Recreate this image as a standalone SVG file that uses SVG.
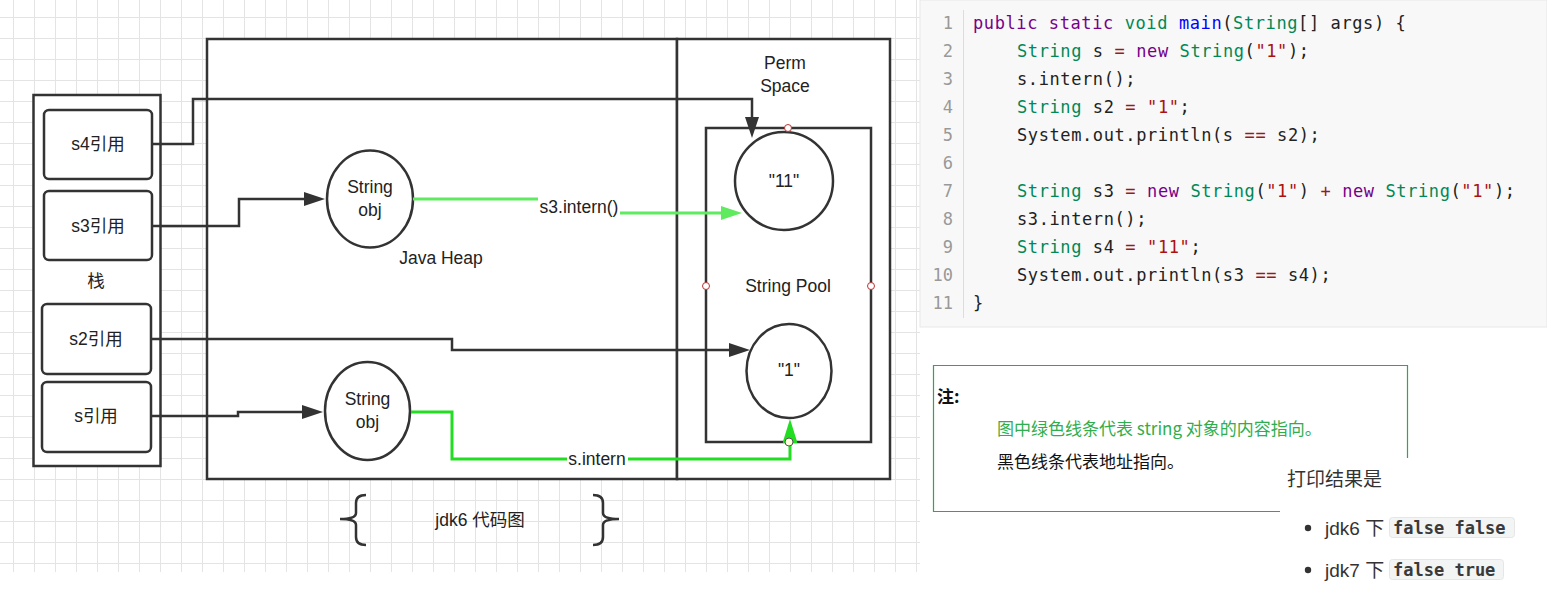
<svg xmlns="http://www.w3.org/2000/svg" width="1547" height="611" viewBox="0 0 1547 611">
  <defs>
    <pattern id="grid" x="13" y="17" width="21" height="21" patternUnits="userSpaceOnUse">
      <path d="M0 0.5 H21 M0.5 0 V21" fill="none" stroke="#e4e4e4" stroke-width="1"/>
    </pattern>
    <marker id="arrBlack" markerUnits="userSpaceOnUse" markerWidth="22" markerHeight="16" refX="0" refY="7" orient="auto">
      <path d="M0,0 L21,7 L0,14 z" fill="#333"/>
    </marker>
    <marker id="arrGreenL" markerUnits="userSpaceOnUse" markerWidth="22" markerHeight="16" refX="0" refY="7" orient="auto">
      <path d="M0,0 L21,7 L0,14 z" fill="#5fea5f"/>
    </marker>
    <marker id="arrGreen" markerUnits="userSpaceOnUse" markerWidth="25" markerHeight="16" refX="0" refY="7.5" orient="auto">
      <path d="M0,0 L24,7.5 L0,15 z" fill="#22dd22"/>
    </marker>
    <style>
      .box { fill: #fff; stroke: #333; stroke-width: 2.5; }
      .frame { fill: none; stroke: #333; stroke-width: 2.5; }
      .lbl { font-family: "Liberation Sans", "Noto Sans CJK SC", sans-serif; font-size: 17.5px; fill: #222; text-anchor: middle; dominant-baseline: central; }
      .conn { fill: none; stroke: #333; stroke-width: 2.5; }
      .gconn { fill: none; stroke-width: 3; }
      .pt { fill: #fff; stroke: #b33; stroke-width: 1; }
      .code { font-family: "DejaVu Sans Mono", "Liberation Mono", monospace; font-size: 17px; letter-spacing: 0.6px; fill: #222; white-space: pre; }
      .ln { font-family: "DejaVu Sans Mono", "Liberation Mono", monospace; font-size: 17px; fill: #999; text-anchor: end; }
      .kw { fill: #770088; }
      .ty { fill: #008855; }
      .df { fill: #0000ff; }
      .st { fill: #aa1111; }
      .op { fill: #981a1a; }
      .note { font-family: "Noto Sans CJK SC", "Liberation Sans", sans-serif; font-size: 17px; }
      .body { font-family: "Liberation Sans", "Noto Sans CJK SC", sans-serif; font-size: 19px; fill: #333; }
      .mono { font-family: "DejaVu Sans Mono", "Liberation Mono", monospace; font-size: 17px; fill: #3a3a3a; font-weight: bold; }
      .codebg { fill: #f3f4f4; stroke: #e6e6e6; stroke-width: 1; }
    </style>
  </defs>

  <rect x="0" y="0" width="1547" height="611" fill="#fff"/>
  <rect x="0" y="0" width="920" height="572" fill="url(#grid)"/>

  <!-- Containers -->
  <g id="stack">
    <rect class="box" x="33.5" y="95" width="127" height="371"/>
    <text class="lbl" x="96" y="281">栈</text>
  </g>
  <g id="java-heap">
    <rect class="box" x="207" y="39" width="470" height="440"/>
    <text class="lbl" x="441" y="258">Java Heap</text>
  </g>
  <g id="perm-space">
    <rect class="box" x="677" y="39" width="213" height="440"/>
    <text class="lbl" x="785" y="63">Perm</text>
    <text class="lbl" x="785" y="86">Space</text>
  </g>
  <g id="string-pool">
    <rect class="box" x="706" y="128" width="165" height="314"/>
    <text class="lbl" x="788" y="286">String Pool</text>
  </g>

  <!-- Stack refs -->
  <g id="s4-ref">
    <rect class="box" x="44" y="110" width="108" height="69" rx="5"/>
    <text class="lbl" x="98" y="144">s4引用</text>
  </g>
  <g id="s3-ref">
    <rect class="box" x="44" y="191" width="108" height="69" rx="5"/>
    <text class="lbl" x="98" y="226">s3引用</text>
  </g>
  <g id="s2-ref">
    <rect class="box" x="42" y="304" width="109" height="70" rx="5"/>
    <text class="lbl" x="96" y="339">s2引用</text>
  </g>
  <g id="s-ref">
    <rect class="box" x="42" y="382" width="109" height="70" rx="5"/>
    <text class="lbl" x="96" y="416">s引用</text>
  </g>

  <!-- Heap objects -->
  <g id="obj-s3">
    <ellipse class="box" cx="370" cy="199" rx="43" ry="48.5"/>
    <text class="lbl" x="370" y="187">String</text>
    <text class="lbl" x="370" y="210">obj</text>
  </g>
  <g id="obj-s">
    <ellipse class="box" cx="367.5" cy="411" rx="42.5" ry="49"/>
    <text class="lbl" x="367.5" y="399">String</text>
    <text class="lbl" x="367.5" y="422">obj</text>
  </g>

  <!-- Pool entries -->
  <g id="pool-11">
    <circle class="box" cx="784" cy="181" r="49"/>
    <text class="lbl" x="784" y="181">"11"</text>
  </g>
  <g id="pool-1">
    <ellipse class="box" cx="789" cy="371" rx="42.5" ry="47"/>
    <text class="lbl" x="789" y="370">"1"</text>
  </g>

  <!-- Connectors -->
  <g id="connectors">
    <path class="conn" d="M152,144 H193 V99 H752 V117" marker-end="url(#arrBlack)"/>
    <path class="conn" d="M152,226 H239 V199 H304" marker-end="url(#arrBlack)"/>
    <path class="conn" d="M152,339 H452 V350 H729" marker-end="url(#arrBlack)"/>
    <path class="conn" d="M152,416 H238 V412 H302" marker-end="url(#arrBlack)"/>
    <path class="gconn" stroke="#5fea5f" d="M413,199 H579 V213 H721" marker-end="url(#arrGreenL)"/>
    <rect x="538" y="197" width="82" height="19" fill="#fff"/>
    <text class="lbl" x="579" y="207">s3.intern()</text>
    <path class="gconn" stroke="#22dd22" d="M411,412 H452 V459 H790 V443" marker-end="url(#arrGreen)"/>
    <rect x="567" y="450" width="61" height="18" fill="#fff"/>
    <text class="lbl" x="597" y="459">s.intern</text>
  </g>

  <!-- connection points -->
  <g id="points">
    <circle class="pt" cx="788" cy="128" r="3.5"/>
    <circle class="pt" cx="706" cy="286" r="3.5"/>
    <circle class="pt" cx="871" cy="286" r="3.5"/>
    <circle cx="789" cy="442" r="4" fill="#ffffdd" stroke="#555" stroke-width="1"/>
  </g>

  <!-- Caption -->
  <g id="caption">
    <path class="frame" d="M366,495 Q356,495 356,503 V513 Q356,519 340,519 Q356,519 356,525 V537 Q356,545 366,545"/>
    <path class="frame" d="M593,495 Q603,495 603,503 V513 Q603,519 619,519 Q603,519 603,525 V537 Q603,545 593,545"/>
    <text class="lbl" x="480" y="520">jdk6 代码图</text>
  </g>

  <!-- Code -->
  <g id="code">
    <rect x="920" y="0" width="627" height="327" fill="#f8f8f8" stroke="#e8e8e8" stroke-width="1"/>
    <line x1="963.5" y1="10" x2="963.5" y2="318" stroke="#ddd" stroke-width="1"/>
    <text class="ln" x="953" y="29">1</text>
    <text class="ln" x="953" y="57">2</text>
    <text class="ln" x="953" y="85">3</text>
    <text class="ln" x="953" y="113">4</text>
    <text class="ln" x="953" y="141">5</text>
    <text class="ln" x="953" y="169">6</text>
    <text class="ln" x="953" y="197">7</text>
    <text class="ln" x="953" y="225">8</text>
    <text class="ln" x="953" y="253">9</text>
    <text class="ln" x="953" y="281">10</text>
    <text class="ln" x="953" y="309">11</text>
    <text class="code" x="973" y="29"><tspan class="kw">public static</tspan> <tspan class="ty">void</tspan> <tspan class="df">main</tspan>(<tspan class="ty">String</tspan>[] args) {</text>
    <text class="code" x="1017" y="57"><tspan class="ty">String</tspan> s <tspan class="op">=</tspan> <tspan class="kw">new</tspan> <tspan class="ty">String</tspan>(<tspan class="st">"1"</tspan>);</text>
    <text class="code" x="1017" y="85">s.intern();</text>
    <text class="code" x="1017" y="113"><tspan class="ty">String</tspan> s2 <tspan class="op">=</tspan> <tspan class="st">"1"</tspan>;</text>
    <text class="code" x="1017" y="141">System.out.println(s <tspan class="op">==</tspan> s2);</text>
    <text class="code" x="1017" y="197"><tspan class="ty">String</tspan> s3 <tspan class="op">=</tspan> <tspan class="kw">new</tspan> <tspan class="ty">String</tspan>(<tspan class="st">"1"</tspan>) <tspan class="op">+</tspan> <tspan class="kw">new</tspan> <tspan class="ty">String</tspan>(<tspan class="st">"1"</tspan>);</text>
    <text class="code" x="1017" y="225">s3.intern();</text>
    <text class="code" x="1017" y="253"><tspan class="ty">String</tspan> s4 <tspan class="op">=</tspan> <tspan class="st">"11"</tspan>;</text>
    <text class="code" x="1017" y="281">System.out.println(s3 <tspan class="op">==</tspan> s4);</text>
    <text class="code" x="973" y="309">}</text>
  </g>

  <!-- Note -->
  <g id="note">
    <path d="M1280,511.5 H933.5 V365.5 H1407.5 V458" fill="none" stroke="#2fa650" stroke-width="1.2"/>
    <text class="note" x="937" y="403" font-weight="bold" fill="#111">注:</text>
    <text class="note" x="997" y="435" fill="#2fae4e">图中绿色线条代表 string 对象的内容指向。</text>
    <text class="note" x="997" y="468" fill="#111">黑色线条代表地址指向。</text>
  </g>

  <!-- Result -->
  <g id="result">
    <text class="body" x="1287" y="486" font-size="20">打印结果是</text>
    <circle cx="1308" cy="528" r="3.2" fill="#333"/>
    <text class="body" x="1325" y="535">jdk6 下</text>
    <rect class="codebg" x="1389.5" y="517.5" width="125" height="20" rx="3"/>
    <text class="mono" x="1393" y="534">false false</text>
    <circle cx="1308" cy="570" r="3.2" fill="#333"/>
    <text class="body" x="1325" y="577">jdk7 下</text>
    <rect class="codebg" x="1389.5" y="559.5" width="114" height="20" rx="3"/>
    <text class="mono" x="1393" y="576">false true</text>
  </g>
</svg>
